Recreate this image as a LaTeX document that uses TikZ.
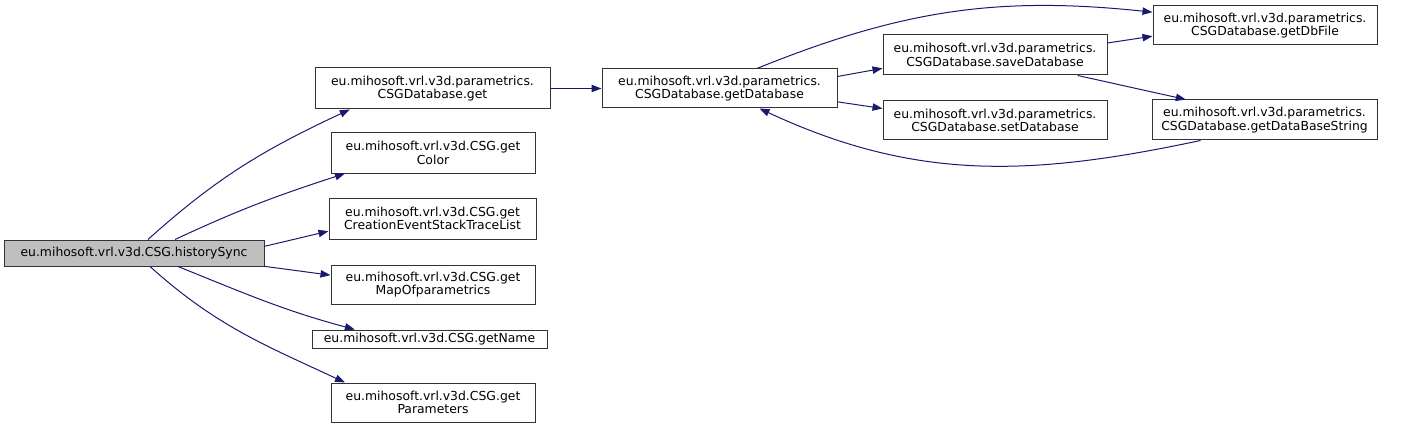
\documentclass[tikz,border=0pt]{standalone}
\usepackage{fontspec}
\setmainfont{DejaVu Sans}
\usetikzlibrary{arrows.meta}

\definecolor{callEdge}{RGB}{25,25,112}
\definecolor{rootFill}{RGB}{191,191,191}

\tikzset{
  fn/.style 2 args={draw=black!80, line width=0.75pt, align=center, inner sep=0pt,
    font=\fontsize{9.3}{10.2}\selectfont,
    minimum width=#1*0.75pt, minimum height=#2*0.75pt},
  call/.style={draw=callEdge, line width=0.75pt,
    -{Triangle[length=7.5pt,width=5.5pt,fill=callEdge]}},
}

\begin{document}
\begin{tikzpicture}[x=0.75pt,y=-0.75pt]
  \useasboundingbox (0,0) rectangle (1411,428);
  % caller
  \node[fn={260}{26}, fill=rootFill] (hist) at (134,253) {eu.mihosoft.vrl.v3d.CSG.historySync};
  % first level
  \node[fn={235}{41}] (dbGet) at (432.5,88.5) {eu.mihosoft.vrl.v3d.parametrics.\\CSGDatabase.get};
  \node[fn={204}{40}] (getColor) at (433,153) {eu.mihosoft.vrl.v3d.CSG.get\\Color};
  \node[fn={207}{41}] (getTrace) at (432.5,218.5) {eu.mihosoft.vrl.v3d.CSG.get\\CreationEventStackTraceList};
  \node[fn={204}{39}] (getMap) at (433,284.5) {eu.mihosoft.vrl.v3d.CSG.get\\MapOfparametrics};
  \node[fn={235}{18}] (getName) at (429.5,339) {eu.mihosoft.vrl.v3d.CSG.getName};
  \node[fn={204}{39}] (getParams) at (433,402.5) {eu.mihosoft.vrl.v3d.CSG.get\\Parameters};
  % database side
  \node[fn={235}{39}] (getDb) at (719.5,88.5) {eu.mihosoft.vrl.v3d.parametrics.\\CSGDatabase.getDatabase};
  \node[fn={224}{40}] (saveDb) at (995,55) {eu.mihosoft.vrl.v3d.parametrics.\\CSGDatabase.saveDatabase};
  \node[fn={224}{39}] (setDb) at (995,120.5) {eu.mihosoft.vrl.v3d.parametrics.\\CSGDatabase.setDatabase};
  \node[fn={224}{39}] (dbFile) at (1265,25.5) {eu.mihosoft.vrl.v3d.parametrics.\\CSGDatabase.getDbFile};
  \node[fn={225}{40}] (dbString) at (1264.5,120) {eu.mihosoft.vrl.v3d.parametrics.\\CSGDatabase.getDataBaseString};

  % calls from historySync
  \draw[call] ([xshift=10.5pt]hist.north) to[out=42,in=205] ([xshift=-62pt]dbGet.south);
  \draw[call] ([xshift=30.75pt]hist.north) to[out=25,in=198] ([xshift=-66pt]getColor.south);
  \draw[call] ([yshift=5pt]hist.east) -- ([yshift=-9.5pt]getTrace.west);
  \draw[call] ([yshift=-10pt]hist.east) -- ([yshift=7pt]getMap.west);
  \draw[call] ([xshift=33pt]hist.south) to[out=-22,in=165] ([xshift=-56pt]getName.north);
  \draw[call] ([xshift=12pt]hist.south) to[out=-42,in=155] ([xshift=-66pt]getParams.north);
  % database calls
  \draw[call] (dbGet) -- (getDb);
  \draw[call] ([xshift=28pt]getDb.north) to[out=22,in=174] ([yshift=10pt]dbFile.west);
  \draw[call] ([yshift=9pt]getDb.east) -- ([yshift=-10pt]saveDb.west);
  \draw[call] ([yshift=-10pt]getDb.east) -- ([yshift=9pt]setDb.west);
  \draw[call] ([yshift=9pt]saveDb.east) -- ([yshift=-8pt]dbFile.west);
  \draw[call] ([xshift=62pt]saveDb.south) -- ([xshift=-59pt]dbString.north);
  \draw[call] ([xshift=-48pt]dbString.south) to[out=192,in=-25] ([xshift=30pt]getDb.south);
\end{tikzpicture}
\end{document}
